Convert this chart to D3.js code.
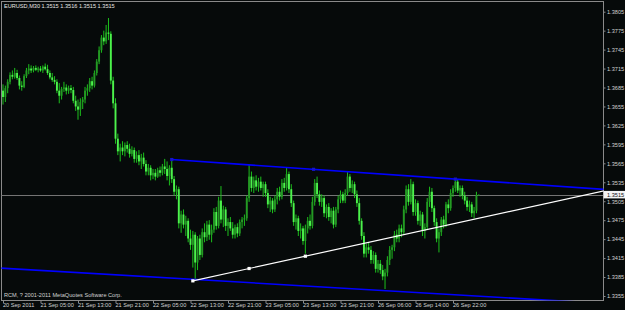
<!DOCTYPE html>
<html>
<head>
<meta charset="utf-8">
<script src="https://cdn.jsdelivr.net/npm/d3@7"></script>
<style>
  body { margin: 0; background: #060a0a; }
  svg { display: block; }
  text { font-family: "Liberation Sans", Arial, sans-serif; font-size: 5.6px; fill: #d2d2d2; }
</style>
</head>
<body>
<div id="chart"></div>
<script>
// EURUSD M30 bars, 20 Sep 21:00 .. 26 Sep 23:00
const opens = [
  1.3680, 1.3670, 1.3684, 1.3694, 1.3705, 1.3702, 1.3708, 1.3700, 1.3688, 1.3686,
  1.3703, 1.3712, 1.3715, 1.3712, 1.3716, 1.3713, 1.3715, 1.3712, 1.3718, 1.3714,
  1.3708, 1.3701, 1.3697, 1.3694, 1.3680, 1.3672, 1.3683, 1.3685, 1.3680, 1.3684,
  1.3681, 1.3664, 1.3655, 1.3650, 1.3662, 1.3666, 1.3680, 1.3684, 1.3695, 1.3688,
  1.3708, 1.3726, 1.3744, 1.3764, 1.3758, 1.3772, 1.3770, 1.3696, 1.3660, 1.3604,
  1.3584, 1.3590, 1.3584, 1.3594, 1.3588, 1.3580, 1.3586, 1.3572, 1.3578, 1.3568,
  1.3574, 1.3564, 1.3552, 1.3558, 1.3546, 1.3550, 1.3544, 1.3554, 1.3550, 1.3560,
  1.3556, 1.3545, 1.3558, 1.3540, 1.3520, 1.3524, 1.3470, 1.3484, 1.3468, 1.3474,
  1.3446, 1.3436, 1.3452, 1.3408, 1.3446, 1.3420, 1.3456, 1.3448, 1.3468, 1.3452,
  1.3460, 1.3488, 1.3466, 1.3506, 1.3476, 1.3492, 1.3466, 1.3472, 1.3462, 1.3452,
  1.3464, 1.3454, 1.3472, 1.3476, 1.3478, 1.3510, 1.3544, 1.3526, 1.3538, 1.3528,
  1.3536, 1.3526, 1.3532, 1.3518, 1.3500, 1.3506, 1.3492, 1.3508, 1.3520, 1.3512,
  1.3534, 1.3526, 1.3548, 1.3524, 1.3502, 1.3472, 1.3478, 1.3458, 1.3462, 1.3442,
  1.3462, 1.3474, 1.3466, 1.3504, 1.3534, 1.3516, 1.3504, 1.3510, 1.3486, 1.3496,
  1.3480, 1.3490, 1.3468, 1.3492, 1.3508, 1.3516, 1.3506, 1.3518, 1.3544, 1.3526,
  1.3532, 1.3516, 1.3502, 1.3474, 1.3450, 1.3422, 1.3432, 1.3428, 1.3412, 1.3420,
  1.3398, 1.3406, 1.3396, 1.3386, 1.3392, 1.3412, 1.3428, 1.3432, 1.3452, 1.3446,
  1.3462, 1.3456, 1.3492, 1.3524, 1.3504, 1.3532, 1.3488, 1.3502, 1.3474, 1.3484,
  1.3458, 1.3464, 1.3504, 1.3520, 1.3494, 1.3472, 1.3446, 1.3456, 1.3476, 1.3468,
  1.3500, 1.3494, 1.3518, 1.3526, 1.3536, 1.3522, 1.3526, 1.3514, 1.3506, 1.3496,
  1.3500, 1.3486, 1.3490, 1.3515
];
const highs = [
  1.3690, 1.3688, 1.3698, 1.3709, 1.3712, 1.3716, 1.3713, 1.3704, 1.3695, 1.3706,
  1.3716, 1.3722, 1.3720, 1.3719, 1.3720, 1.3718, 1.3719, 1.3720, 1.3723, 1.3721,
  1.3712, 1.3708, 1.3703, 1.3698, 1.3692, 1.3686, 1.3694, 1.3690, 1.3688, 1.3689,
  1.3686, 1.3672, 1.3666, 1.3668, 1.3670, 1.3686, 1.3690, 1.3700, 1.3702, 1.3712,
  1.3730, 1.3750, 1.3768, 1.3775, 1.3784, 1.3795, 1.3774, 1.3702, 1.3668, 1.3612,
  1.3596, 1.3600, 1.3598, 1.3600, 1.3596, 1.3592, 1.3590, 1.3584, 1.3586, 1.3580,
  1.3582, 1.3570, 1.3564, 1.3562, 1.3556, 1.3556, 1.3558, 1.3560, 1.3564, 1.3572,
  1.3568, 1.3562, 1.3571, 1.3545, 1.3530, 1.3528, 1.3490, 1.3492, 1.3482, 1.3478,
  1.3460, 1.3458, 1.3456, 1.3450, 1.3452, 1.3462, 1.3470, 1.3474, 1.3475, 1.3468,
  1.3494, 1.3496, 1.3512, 1.3529, 1.3498, 1.3496, 1.3478, 1.3480, 1.3472, 1.3468,
  1.3470, 1.3476, 1.3480, 1.3484, 1.3514, 1.3563, 1.3552, 1.3544, 1.3546, 1.3542,
  1.3544, 1.3536, 1.3536, 1.3524, 1.3512, 1.3510, 1.3514, 1.3526, 1.3528, 1.3540,
  1.3542, 1.3558, 1.3552, 1.3532, 1.3506, 1.3484, 1.3482, 1.3470, 1.3466, 1.3468,
  1.3480, 1.3484, 1.3512, 1.3540, 1.3544, 1.3522, 1.3516, 1.3514, 1.3500, 1.3502,
  1.3494, 1.3496, 1.3496, 1.3514, 1.3522, 1.3520, 1.3524, 1.3551, 1.3548, 1.3538,
  1.3536, 1.3522, 1.3510, 1.3478, 1.3456, 1.3438, 1.3440, 1.3434, 1.3426, 1.3424,
  1.3412, 1.3412, 1.3404, 1.3398, 1.3418, 1.3434, 1.3436, 1.3458, 1.3460, 1.3468,
  1.3468, 1.3498, 1.3530, 1.3532, 1.3540, 1.3536, 1.3508, 1.3506, 1.3490, 1.3488,
  1.3470, 1.3510, 1.3528, 1.3526, 1.3498, 1.3478, 1.3462, 1.3480, 1.3482, 1.3504,
  1.3508, 1.3524, 1.3530, 1.3541, 1.3540, 1.3530, 1.3530, 1.3520, 1.3512, 1.3506,
  1.3504, 1.3496, 1.3520, 1.3516
];
const lows = [
  1.3658, 1.3662, 1.3676, 1.3690, 1.3698, 1.3699, 1.3697, 1.3682, 1.3680, 1.3684,
  1.3700, 1.3706, 1.3708, 1.3709, 1.3711, 1.3709, 1.3710, 1.3708, 1.3712, 1.3705,
  1.3698, 1.3694, 1.3690, 1.3676, 1.3660, 1.3666, 1.3678, 1.3674, 1.3675, 1.3676,
  1.3660, 1.3648, 1.3634, 1.3640, 1.3651, 1.3660, 1.3672, 1.3678, 1.3682, 1.3685,
  1.3704, 1.3722, 1.3740, 1.3752, 1.3754, 1.3760, 1.3690, 1.3652, 1.3596, 1.3578,
  1.3568, 1.3578, 1.3576, 1.3582, 1.3574, 1.3576, 1.3566, 1.3566, 1.3562, 1.3556,
  1.3560, 1.3546, 1.3546, 1.3538, 1.3540, 1.3538, 1.3542, 1.3544, 1.3546, 1.3548,
  1.3538, 1.3530, 1.3534, 1.3514, 1.3508, 1.3462, 1.3455, 1.3462, 1.3450, 1.3440,
  1.3428, 1.3400, 1.3382, 1.3396, 1.3412, 1.3416, 1.3440, 1.3442, 1.3444, 1.3440,
  1.3455, 1.3460, 1.3462, 1.3470, 1.3464, 1.3458, 1.3450, 1.3458, 1.3446, 1.3446,
  1.3448, 1.3450, 1.3462, 1.3466, 1.3474, 1.3504, 1.3520, 1.3518, 1.3522, 1.3520,
  1.3522, 1.3512, 1.3512, 1.3494, 1.3488, 1.3486, 1.3488, 1.3500, 1.3506, 1.3508,
  1.3520, 1.3522, 1.3518, 1.3496, 1.3466, 1.3460, 1.3450, 1.3446, 1.3436, 1.3422,
  1.3454, 1.3460, 1.3462, 1.3498, 1.3510, 1.3498, 1.3496, 1.3480, 1.3478, 1.3474,
  1.3470, 1.3462, 1.3464, 1.3486, 1.3502, 1.3502, 1.3502, 1.3514, 1.3520, 1.3518,
  1.3510, 1.3496, 1.3468, 1.3444, 1.3416, 1.3416, 1.3422, 1.3406, 1.3406, 1.3392,
  1.3392, 1.3390, 1.3380, 1.3366, 1.3386, 1.3404, 1.3414, 1.3426, 1.3440, 1.3440,
  1.3448, 1.3452, 1.3486, 1.3498, 1.3500, 1.3482, 1.3482, 1.3468, 1.3466, 1.3450,
  1.3446, 1.3460, 1.3496, 1.3488, 1.3466, 1.3440, 1.3424, 1.3450, 1.3462, 1.3464,
  1.3486, 1.3490, 1.3512, 1.3520, 1.3518, 1.3512, 1.3508, 1.3500, 1.3490, 1.3488,
  1.3480, 1.3478, 1.3486, 1.3515
];
const closes = [
  1.3670, 1.3684, 1.3694, 1.3705, 1.3702, 1.3708, 1.3700, 1.3688, 1.3686, 1.3703,
  1.3712, 1.3715, 1.3712, 1.3716, 1.3713, 1.3715, 1.3712, 1.3718, 1.3714, 1.3708,
  1.3701, 1.3697, 1.3694, 1.3680, 1.3672, 1.3683, 1.3685, 1.3680, 1.3684, 1.3681,
  1.3664, 1.3655, 1.3650, 1.3662, 1.3666, 1.3680, 1.3684, 1.3695, 1.3688, 1.3708,
  1.3726, 1.3744, 1.3764, 1.3758, 1.3772, 1.3770, 1.3696, 1.3660, 1.3604, 1.3584,
  1.3590, 1.3584, 1.3594, 1.3588, 1.3580, 1.3586, 1.3572, 1.3578, 1.3568, 1.3574,
  1.3564, 1.3552, 1.3558, 1.3546, 1.3550, 1.3544, 1.3554, 1.3550, 1.3560, 1.3556,
  1.3545, 1.3558, 1.3540, 1.3520, 1.3524, 1.3470, 1.3484, 1.3468, 1.3474, 1.3446,
  1.3436, 1.3452, 1.3408, 1.3446, 1.3420, 1.3456, 1.3448, 1.3468, 1.3452, 1.3460,
  1.3488, 1.3466, 1.3506, 1.3476, 1.3492, 1.3466, 1.3472, 1.3462, 1.3452, 1.3464,
  1.3454, 1.3472, 1.3476, 1.3478, 1.3510, 1.3544, 1.3526, 1.3538, 1.3528, 1.3536,
  1.3526, 1.3532, 1.3518, 1.3500, 1.3506, 1.3492, 1.3508, 1.3520, 1.3512, 1.3534,
  1.3526, 1.3548, 1.3524, 1.3502, 1.3472, 1.3478, 1.3458, 1.3462, 1.3442, 1.3462,
  1.3474, 1.3466, 1.3504, 1.3534, 1.3516, 1.3504, 1.3510, 1.3486, 1.3496, 1.3480,
  1.3490, 1.3468, 1.3492, 1.3508, 1.3516, 1.3506, 1.3518, 1.3544, 1.3526, 1.3532,
  1.3516, 1.3502, 1.3474, 1.3450, 1.3422, 1.3432, 1.3428, 1.3412, 1.3420, 1.3398,
  1.3406, 1.3396, 1.3386, 1.3392, 1.3412, 1.3428, 1.3432, 1.3452, 1.3446, 1.3462,
  1.3456, 1.3492, 1.3524, 1.3504, 1.3532, 1.3488, 1.3502, 1.3474, 1.3484, 1.3458,
  1.3464, 1.3504, 1.3520, 1.3494, 1.3472, 1.3446, 1.3456, 1.3476, 1.3468, 1.3500,
  1.3494, 1.3518, 1.3526, 1.3536, 1.3522, 1.3526, 1.3514, 1.3506, 1.3496, 1.3500,
  1.3486, 1.3490, 1.3515, 1.3515
];

const timeLabelBars = [0, 16, 32, 48, 64, 80, 96, 112, 128, 144, 160, 176, 192];
const timeLabels = [
  "20 Sep 2011", "21 Sep 05:00", "21 Sep 13:00", "21 Sep 21:00", "22 Sep 05:00",
  "22 Sep 13:00", "22 Sep 21:00", "23 Sep 05:00", "23 Sep 13:00", "23 Sep 21:00",
  "26 Sep 06:00", "26 Sep 14:00", "26 Sep 22:00"
];
const priceTicks = [1.3805, 1.3775, 1.3745, 1.3715, 1.3685, 1.3655, 1.3625, 1.3595,
  1.3565, 1.3535, 1.3505, 1.3475, 1.3445, 1.3415, 1.3385, 1.3355];
const lastPrice = 1.3515;

// trend lines as [bar index, price] anchors
const upperChannel = [[72, 1.3571], [193, 1.3540]];
const lowerChannel = [[0, 1.3399], [101, 1.3377]];
const supportLine = [[81, 1.3379], [129, 1.3418]];

const titleText = "EURUSD,M30  1.3515 1.3516 1.3515 1.3515";
const footerText = "RCM, ? 2001-2011 MetaQuotes Software Corp.";

class CandleChart {
  constructor() {
    this.width = 625;
    this.height = 310;
    this.plot = { left: 1.5, top: 1.5, right: 603.5, bottom: 300.5 };

    this.svg = d3.select("#chart")
      .append("svg")
      .attr("width", this.width)
      .attr("height", this.height);

    this.svg.append("rect")
      .attr("width", this.width)
      .attr("height", this.height)
      .attr("fill", "#060a0a");

    this.bars = opens.map((o, i) => ({
      i: i, o: o, h: highs[i], l: lows[i], c: closes[i]
    }));

    this.initChart();
    this.drawBars();
    this.drawTrendLines();
    this.drawTexts();
  }

  initChart() {
    this.xScale = d3.scaleLinear().domain([0, 256]).range([3, 603]);
    this.yScale = d3.scaleLinear().domain([1.3355, 1.3805]).range([296, 11.7]);

    this.svg.append("clipPath")
      .attr("id", "plot-clip")
      .append("rect")
      .attr("x", this.plot.left)
      .attr("y", this.plot.top)
      .attr("width", this.plot.right - this.plot.left)
      .attr("height", this.plot.bottom - this.plot.top);

    this.svg.append("rect")
      .attr("x", this.plot.left)
      .attr("y", this.plot.top)
      .attr("width", this.plot.right - this.plot.left)
      .attr("height", this.plot.bottom - this.plot.top)
      .attr("fill", "none")
      .attr("stroke", "#8a8a8a")
      .attr("stroke-width", 1);

    const yAxis = d3.axisRight(this.yScale)
      .tickValues(priceTicks)
      .tickSize(2)
      .tickPadding(1.5)
      .tickFormat(d3.format(".4f"));

    const yg = this.svg.append("g")
      .attr("class", "y-axis")
      .attr("transform", `translate(${this.plot.right},0)`)
      .call(yAxis);
    yg.select(".domain").remove();
    yg.selectAll("line").attr("stroke", "#8a8a8a");
    yg.selectAll("text").attr("fill", "#d2d2d2").style("font-size", "5.6px");

    const xAxis = d3.axisBottom(this.xScale)
      .tickValues(timeLabelBars)
      .tickSize(2.5)
      .tickFormat((d, i) => timeLabels[i]);

    const xg = this.svg.append("g")
      .attr("class", "x-axis")
      .attr("transform", `translate(0,${this.plot.bottom})`)
      .call(xAxis);
    xg.select(".domain").remove();
    xg.selectAll("line").attr("stroke", "#8a8a8a");
    xg.selectAll("text")
      .attr("text-anchor", "start")
      .attr("x", -0.5)
      .attr("y", 2.6)
      .attr("dy", "0.71em")
      .attr("fill", "#d2d2d2")
      .style("font-size", "5.6px");

    // current price line
    this.svg.append("line")
      .attr("x1", this.plot.left)
      .attr("x2", this.plot.right)
      .attr("y1", Math.round(this.yScale(lastPrice)) + 0.5)
      .attr("y2", Math.round(this.yScale(lastPrice)) + 0.5)
      .attr("stroke", "#747474")
      .attr("stroke-width", 1);

    const ly = this.yScale(lastPrice);
    this.svg.append("rect")
      .attr("x", this.plot.right)
      .attr("y", ly - 4)
      .attr("width", 22)
      .attr("height", 7.5)
      .attr("fill", "#f4f4f4");
    this.svg.append("text")
      .attr("x", this.plot.right + 3.5)
      .attr("y", ly)
      .attr("dy", "0.35em")
      .style("fill", "#111")
      .text(d3.format(".4f")(lastPrice));
  }

  drawBars() {
    const g = this.svg.append("g")
      .attr("class", "bars")
      .attr("clip-path", "url(#plot-clip)");

    g.selectAll(".wick")
      .data(this.bars)
      .enter().append("line")
      .attr("class", "wick")
      .attr("x1", d => this.xScale(d.i))
      .attr("x2", d => this.xScale(d.i))
      .attr("y1", d => this.yScale(d.h))
      .attr("y2", d => this.yScale(d.l))
      .attr("stroke", "#1cc01c")
      .attr("stroke-width", 1);

    g.selectAll(".body")
      .data(this.bars)
      .enter().append("rect")
      .attr("class", "body")
      .attr("x", d => this.xScale(d.i) - 0.95)
      .attr("width", 1.9)
      .attr("y", d => this.yScale(Math.max(d.o, d.c)))
      .attr("height", d => Math.max(0.9, Math.abs(this.yScale(d.o) - this.yScale(d.c))))
      .attr("fill", d => d.c >= d.o ? "#249a24" : "#4cf24c");
  }

  lineThrough(anchors, fromBar, toBar) {
    const [[i1, p1], [i2, p2]] = anchors;
    const slope = (p2 - p1) / (i2 - i1);
    return {
      x1: this.xScale(fromBar), y1: this.yScale(p1 + slope * (fromBar - i1)),
      x2: this.xScale(toBar), y2: this.yScale(p1 + slope * (toBar - i1))
    };
  }

  drawTrendLines() {
    const g = this.svg.append("g")
      .attr("class", "trend-lines")
      .attr("clip-path", "url(#plot-clip)");

    const lines = [
      { seg: this.lineThrough(lowerChannel, -5, 260), color: "#0000ff", w: 1.6 },
      { seg: this.lineThrough(upperChannel, upperChannel[0][0], 260), color: "#0000ff", w: 1.6 },
      { seg: this.lineThrough(supportLine, supportLine[0][0], 260), color: "#ffffff", w: 1.2 }
    ];

    g.selectAll(".trend")
      .data(lines)
      .enter().append("line")
      .attr("class", "trend")
      .attr("x1", d => d.seg.x1)
      .attr("y1", d => d.seg.y1)
      .attr("x2", d => d.seg.x2)
      .attr("y2", d => d.seg.y2)
      .attr("stroke", d => d.color)
      .attr("stroke-width", d => d.w);

    // selected-object handles: both anchors plus the midpoint
    const handles = [];
    [[upperChannel, "#1414c8"], [supportLine, "#ffffff"]].forEach(([a, color]) => {
      const mid = [(a[0][0] + a[1][0]) / 2, (a[0][1] + a[1][1]) / 2];
      [a[0], mid, a[1]].forEach(p => handles.push({ i: p[0], p: p[1], color: color }));
    });

    g.selectAll(".handle")
      .data(handles)
      .enter().append("rect")
      .attr("class", "handle")
      .attr("x", d => this.xScale(d.i) - 1.6)
      .attr("y", d => this.yScale(d.p) - 1.6)
      .attr("width", 3.2)
      .attr("height", 3.2)
      .attr("fill", d => d.color);
  }

  drawTexts() {
    this.svg.append("text")
      .attr("x", 4)
      .attr("y", 8)
      .style("fill", "#e6e6e6")
      .text(titleText);

    this.svg.append("text")
      .attr("x", 4)
      .attr("y", 297)
      .style("fill", "#d2d2d2")
      .text(footerText);
  }
}

new CandleChart();
</script>
</body>
</html>
